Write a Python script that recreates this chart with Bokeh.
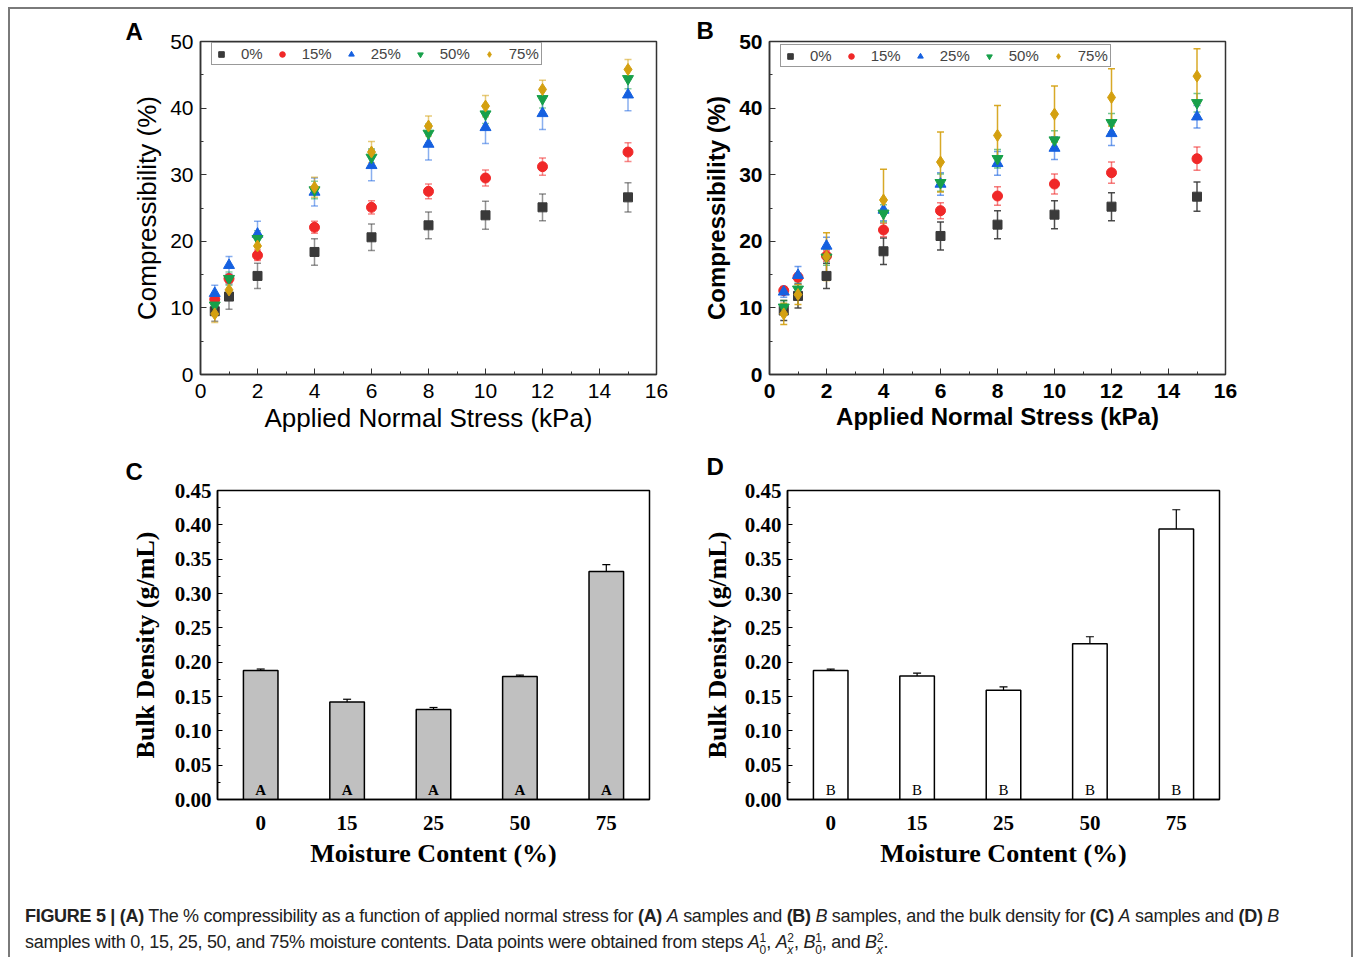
from bokeh.plotting import figure
from bokeh.layouts import column, row
from bokeh.models import (ColumnDataSource, Whisker, TeeHead, FixedTicker, Div,
                          FactorRange, NumeralTickFormatter)
from bokeh.embed import file_html
from bokeh.resources import INLINE
from bokeh.core.properties import value

# ---------------- data ----------------
stress = [0.5, 1, 2, 4, 6, 8, 10, 12, 15]
series = ["0%", "15%", "25%", "50%", "75%"]

# Panel A (A samples) compressibility (%)
a_0 = [9.5, 11.7, 14.8, 18.4, 20.6, 22.4, 23.9, 25.1, 26.6]
a_15 = [11.3, 14.4, 17.9, 22.1, 25.1, 27.5, 29.5, 31.2, 33.4]
a_25 = [12.2, 16.4, 21.1, 27.4, 31.4, 34.6, 37.1, 39.2, 42.0]
a_50 = [10.4, 14.4, 20.4, 27.7, 32.6, 36.2, 39.1, 41.4, 44.4]
a_75 = [9.1, 12.7, 19.3, 28.1, 33.4, 37.3, 40.3, 42.8, 45.8]
a_0_err = [1.5, 1.9, 1.9, 2.0, 2.0, 2.0, 2.1, 2.0, 2.2]
a_15_err = [0.5, 0.6, 0.8, 0.9, 1.0, 1.1, 1.2, 1.3, 1.4]
a_25_err = [1.2, 1.3, 1.9, 2.1, 2.3, 2.4, 2.4, 2.4, 2.4]
a_50_err = [1.0, 1.0, 1.2, 1.3, 1.3, 1.4, 1.4, 1.4, 1.5]
a_75_err = [1.3, 1.2, 1.3, 1.5, 1.6, 1.5, 1.6, 1.4, 1.5]

# Panel B (B samples) compressibility (%)
b_0 = [9.6, 11.8, 14.8, 18.5, 20.8, 22.5, 24.0, 25.2, 26.7]
b_15 = [12.6, 14.6, 17.8, 21.7, 24.6, 26.8, 28.6, 30.3, 32.4]
b_25 = [12.4, 14.9, 19.3, 24.7, 28.6, 31.7, 34.0, 36.2, 38.7]
b_50 = [10.1, 12.8, 17.6, 24.2, 28.8, 32.4, 35.2, 37.8, 40.8]
b_75 = [9.1, 12.0, 17.7, 26.2, 31.9, 35.9, 39.1, 41.6, 44.8]
b_0_err = [1.5, 1.8, 1.9, 2.0, 2.1, 2.1, 2.1, 2.1, 2.2]
b_15_err = [0.5, 0.6, 0.8, 1.0, 1.2, 1.4, 1.5, 1.6, 1.75]
b_25_err = [0.8, 1.3, 1.3, 1.6, 1.7, 1.8, 1.7, 1.8, 1.7]
b_50_err = [1.0, 1.1, 1.2, 1.3, 1.3, 1.4, 1.4, 1.4, 1.4]
b_75_err = [1.6, 1.5, 3.6, 4.6, 4.5, 4.5, 4.2, 4.3, 4.1]

# Panels C / D bulk density (g/mL)
moisture = ["0", "15", "25", "50", "75"]
c_density = [0.188, 0.142, 0.131, 0.179, 0.332]
c_err = [0.002, 0.004, 0.003, 0.002, 0.010]
d_density = [0.188, 0.180, 0.159, 0.227, 0.394]
d_err = [0.002, 0.004, 0.005, 0.010, 0.028]
c_tag = ["A", "A", "A", "A", "A"]
d_tag = ["B", "B", "B", "B", "B"]

# ---------------- style ----------------
colors = ["#3a3a3a", "#f02828", "#1560e0", "#17a04a", "#d4a010"]
markers = ["square", "circle", "triangle", "inverted_triangle", "diamond"]
msizes = [9, 10, 11, 11, 12]
SANS = "Liberation Sans"
SERIF = "Liberation Serif"


def panel_title(p, letter, offset, standoff):
    p.title.text = letter
    p.title.align = "left"
    p.title.offset = offset
    p.title.standoff = standoff
    p.title.text_font = SANS
    p.title.text_font_size = "24px"
    p.title.text_font_style = "bold"
    p.title.text_color = "black"


def scatter_panel(means, errs, letter, bold, ml, mr, mt, mb, fw, fh, err_alpha, title_size,
                  toff, tstand, ylab_stand):
    p = figure(width=ml + fw + mr, height=mt + fh + mb, x_range=(0, 16), y_range=(0, 50),
               output_backend="svg", toolbar_location=None,
               min_border_left=ml, min_border_right=mr, min_border_top=mt, min_border_bottom=mb)
    p.grid.visible = False
    p.outline_line_color = "#333333"
    p.outline_line_width = 1.5
    style = "bold" if bold else "normal"
    for ax in (p.xaxis[0], p.yaxis[0]):
        ax.axis_line_color = "#333333"
        ax.axis_line_width = 1.5
        ax.major_tick_in = 6
        ax.major_tick_out = 0
        ax.minor_tick_in = 3
        ax.minor_tick_out = 0
        ax.major_tick_line_color = "#333333"
        ax.minor_tick_line_color = "#333333"
        ax.major_label_text_font = SANS
        ax.major_label_text_font_size = "21px"
        ax.major_label_text_font_style = style
        ax.major_label_text_color = "black"
        ax.axis_label_text_font = SANS
        ax.axis_label_text_font_size = title_size
        ax.axis_label_text_font_style = style
        ax.axis_label_text_color = "black"
    p.xaxis.ticker = FixedTicker(ticks=[0, 2, 4, 6, 8, 10, 12, 14, 16],
                                 minor_ticks=[1, 3, 5, 7, 9, 11, 13, 15])
    p.yaxis.ticker = FixedTicker(ticks=[0, 10, 20, 30, 40, 50],
                                 minor_ticks=[5, 15, 25, 35, 45])
    p.xaxis.axis_label = "Applied Normal Stress (kPa)"
    p.yaxis.axis_label = "Compressibility (%)"
    p.xaxis.major_label_standoff = 9
    p.xaxis.axis_label_standoff = 2
    p.yaxis.major_label_standoff = 7
    p.yaxis.axis_label_standoff = ylab_stand

    for i, name in enumerate(series):
        m = means[i]
        e = errs[i]
        src = ColumnDataSource(dict(x=stress, y=m,
                                    lo=[a - b for a, b in zip(m, e)],
                                    hi=[a + b for a, b in zip(m, e)]))
        w = Whisker(source=src, base="x", upper="hi", lower="lo",
                    line_color=colors[i], line_alpha=err_alpha[i], line_width=1.5,
                    upper_head=TeeHead(size=7, line_color=colors[i], line_alpha=err_alpha[i], line_width=1.5),
                    lower_head=TeeHead(size=7, line_color=colors[i], line_alpha=err_alpha[i], line_width=1.5))
        p.add_layout(w)
        p.scatter("x", "y", source=src, marker=markers[i], size=msizes[i],
                  fill_color=colors[i], line_color=colors[i], legend_label=name)

    lg = p.legend[0]
    lg.orientation = "horizontal"
    lg.location = (11, fh - 26)
    lg.padding = 2
    lg.spacing = 12
    lg.label_standoff = 13
    lg.glyph_width = 14
    lg.glyph_height = 14
    lg.label_text_font = SANS
    lg.label_text_font_size = "15px"
    lg.label_height = 14
    lg.border_line_color = "#333333"
    lg.border_line_width = 1.5
    lg.background_fill_alpha = 1
    lg.margin = 0
    panel_title(p, letter, toff, tstand)
    return p


def bar_panel(vals, errs, tags, letter, fill, tag_style, ml, mr, mt, mb, fw, fh, toff, tstand, ylab_stand):
    p = figure(width=ml + fw + mr, height=mt + fh + mb, x_range=FactorRange(factors=moisture),
               y_range=(0, 0.45), output_backend="svg", toolbar_location=None,
               min_border_left=ml, min_border_right=mr, min_border_top=mt, min_border_bottom=mb)
    p.grid.visible = False
    p.outline_line_color = "black"
    p.outline_line_width = 1.5
    for ax in (p.xaxis[0], p.yaxis[0]):
        ax.axis_line_color = "black"
        ax.axis_line_width = 1.5
        ax.major_label_text_font = SERIF
        ax.major_label_text_font_size = "21px"
        ax.major_label_text_font_style = "bold"
        ax.major_label_text_color = "black"
        ax.axis_label_text_font = SERIF
        ax.axis_label_text_font_size = "26px"
        ax.axis_label_text_font_style = "bold"
        ax.axis_label_text_color = "black"
    p.xaxis.major_tick_line_color = None
    p.xaxis.minor_tick_line_color = None
    p.xaxis.major_label_standoff = 10
    p.xaxis.axis_label_standoff = 6
    yt = [0, 0.05, 0.10, 0.15, 0.20, 0.25, 0.30, 0.35, 0.40, 0.45]
    p.yaxis.ticker = FixedTicker(ticks=yt, minor_ticks=[t + 0.025 for t in yt[:-1]])
    p.yaxis.formatter = NumeralTickFormatter(format="0.00")
    p.yaxis.major_tick_in = 5
    p.yaxis.major_tick_out = 0
    p.yaxis.minor_tick_in = 3
    p.yaxis.minor_tick_out = 0
    p.yaxis.major_label_standoff = 6
    p.yaxis.axis_label_standoff = ylab_stand
    p.xaxis.axis_label = "Moisture Content (%)"
    p.yaxis.axis_label = "Bulk Density (g/mL)"

    src = ColumnDataSource(dict(x=moisture, y=vals, tag=tags,
                                lo=[a - b for a, b in zip(vals, errs)],
                                hi=[a + b for a, b in zip(vals, errs)]))
    p.vbar(x="x", top="y", width=0.4, source=src, fill_color=fill, line_color="black", line_width=1.5)
    p.add_layout(Whisker(source=src, base="x", upper="hi", lower="lo", line_color="black", line_width=1.2,
                         upper_head=TeeHead(size=8, line_color="black", line_width=1.2),
                         lower_head=TeeHead(size=8, line_color="black", line_width=1.2)))
    p.text(x="x", y=0, text="tag", source=src, text_font=value(SERIF), text_font_size="15px",
           text_font_style=tag_style, text_align="center", text_baseline="bottom", y_offset=-2,
           text_color="black")
    panel_title(p, letter, toff, tstand)
    return p


pa = scatter_panel([a_0, a_15, a_25, a_50, a_75], [a_0_err, a_15_err, a_25_err, a_50_err, a_75_err],
                   "A", False, 190, 38, 31, 63, 456, 335, [0.55, 0.55, 0.5, 0.5, 0.55], "26px",
                   -75, -7, 5)
pb = scatter_panel([b_0, b_15, b_25, b_50, b_75], [b_0_err, b_15_err, b_25_err, b_50_err, b_75_err],
                   "B", True, 75, 126, 32, 64, 456, 333, [0.9, 0.6, 0.6, 0.6, 0.9], "24px",
                   -73, -5, 6)
pc = bar_panel(c_density, c_err, c_tag, "C", "#c0c0c0", "bold", 207, 45, 52, 83, 432, 310, -92, 11, 12)
pd_ = bar_panel(d_density, d_err, d_tag, "D", "white", "normal", 93, 132, 51, 84, 432, 310, -81, 22, 10)

sub = ('<span style="display:inline-flex;flex-direction:column;font-size:12px;line-height:12px;'
       'vertical-align:6px;font-style:normal;letter-spacing:0;">')
caption = Div(text=(
    '<div style="white-space:nowrap;font-family:\'Liberation Sans\',sans-serif;'
    'font-size:18px;line-height:26px;color:#222;letter-spacing:-0.3px;">'
    '<b>FIGURE 5 | (A)</b> The % compressibility as a function of applied normal stress for <b>(A)</b> '
    '<i>A</i> samples and <b>(B)</b> <i>B</i> samples, and the bulk density for <b>(C)</b> <i>A</i> samples '
    'and <b>(D)</b> <i>B</i><br>'
    'samples with 0, 15, 25, 50, and 75% moisture contents. Data points were obtained from steps '
    '<i>A</i>' + sub + '<span>1</span><span>0</span></span>, '
    '<i>A</i>' + sub + '<span>2</span><span><i>x</i></span></span>, '
    '<i>B</i>' + sub + '<span>1</span><span>0</span></span>, and '
    '<i>B</i>' + sub + '<span>2</span><span><i>x</i></span></span>.'
    '</div>'), width=1330, height=70, styles={"padding-left": "10px", "padding-top": "15px"})

layout = column(row(pa, pb), row(pc, pd_), caption,
                margin=(7, 0, 0, 8), styles={"border": "2px solid #7a7a7a", "border-bottom": "none"})
open("out.html", "w").write(file_html(layout, INLINE))
